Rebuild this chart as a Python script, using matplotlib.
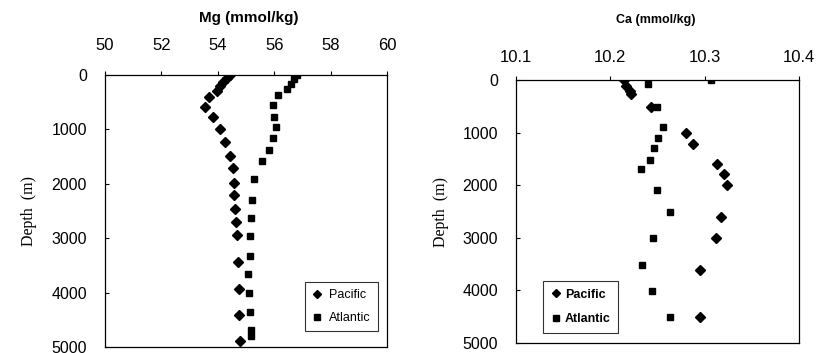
import matplotlib
matplotlib.use("Agg")
import matplotlib.pyplot as plt

# Mg profiles
mg_pac_depth = [0, 60, 123, 200, 290, 400, 580, 780, 990, 1225, 1480, 1715, 1980, 2200,
                2470, 2710, 2950, 3435, 3930, 4410, 4890]
mg_pac = [54.43, 54.32, 54.20, 54.08, 53.96, 53.68, 53.55, 53.82, 54.08, 54.26, 54.43, 54.53,
          54.57, 54.57, 54.62, 54.66, 54.69, 54.71, 54.74, 54.76, 54.80]
mg_atl_depth = [0, 80, 165, 263, 368, 550, 766, 961, 1152, 1380, 1580, 1912, 2290, 2620,
                2955, 3325, 3655, 4000, 4350, 4690, 4800]
mg_atl = [56.80, 56.71, 56.60, 56.44, 56.15, 55.95, 56.00, 56.06, 55.97, 55.83, 55.56, 55.30,
          55.23, 55.17, 55.14, 55.14, 55.08, 55.12, 55.14, 55.17, 55.17]

# Ca profiles
ca_pac_depth = [0, 114, 203, 266, 506, 1000, 1215, 1601, 1791, 2000, 2614, 3006, 3620, 4513]
ca_pac = [10.215, 10.217, 10.221, 10.222, 10.243, 10.280, 10.288, 10.313, 10.321, 10.324,
          10.317, 10.312, 10.295, 10.295]
ca_atl_depth = [0, 82, 506, 892, 1095, 1297, 1513, 1696, 2089, 2500, 3006, 3513, 4019, 4500]
ca_atl = [10.307, 10.240, 10.249, 10.256, 10.251, 10.246, 10.242, 10.233, 10.249, 10.263,
          10.245, 10.234, 10.244, 10.263]

depth_ticks = [0, 1000, 2000, 3000, 4000, 5000]
mg_ticks = [50, 52, 54, 56, 58, 60]
ca_ticks = [10.1, 10.2, 10.3, 10.4]

sans = "Liberation Sans"
serif = "Liberation Serif"


def setup(ax, xticks, xlim, xpad, ypad):
    ax.set_xlim(*xlim)
    ax.set_ylim(5000, 0)
    ax.xaxis.tick_top()
    ax.set_xticks(xticks)
    ax.set_yticks(depth_ticks)
    ax.tick_params(axis="x", length=3, direction="out", pad=xpad, labelsize=12)
    ax.tick_params(axis="y", length=3, direction="in", pad=ypad, labelsize=11.5)
    for lab in ax.get_xticklabels() + ax.get_yticklabels():
        lab.set_family(sans)
    for s in ax.spines.values():
        s.set_linewidth(0.9)
    ax.set_ylabel("Depth  (m)", family=serif, fontsize=11.5)


def main():
    fig = plt.figure(figsize=(8.32, 3.53), dpi=100)

    ax1 = fig.add_axes([105/832, 1-347/353, 282/832, 272/353])
    ax1.plot(mg_pac, mg_pac_depth, "D", color="black", markersize=5.5, label="Pacific")
    ax1.plot(mg_atl, mg_atl_depth, "s", color="black", markersize=5, label="Atlantic")
    setup(ax1, mg_ticks, (50, 60), 13, 13)
    ax1.set_xticklabels([str(t) for t in mg_ticks])
    ax1.yaxis.set_label_coords(-0.24, 0.5)
    leg = ax1.legend(loc="lower right", prop={"family": sans, "size": 9},
                     frameon=True, fancybox=False, edgecolor="black",
                     borderpad=0.55, labelspacing=0.9, handletextpad=0.6,
                     handlelength=0.8, markerscale=0.8,
                     bbox_to_anchor=(0.99, 0.035))
    leg.get_frame().set_linewidth(0.8)

    ax2 = fig.add_axes([516/832, 1-343/353, 283/832, 263/353])
    ax2.plot(ca_pac, ca_pac_depth, "D", color="black", markersize=5.5, label="Pacific")
    ax2.plot(ca_atl, ca_atl_depth, "s", color="black", markersize=5, label="Atlantic")
    setup(ax2, ca_ticks, (10.1, 10.4), 8, 13)
    ax2.set_xticklabels(["10.1", "10.2", "10.3", "10.4"])
    ax2.yaxis.set_label_coords(-0.235, 0.5)
    leg2 = ax2.legend(loc="lower left", prop={"family": sans, "size": 9, "weight": "bold"},
                      frameon=True, fancybox=False, edgecolor="black",
                      borderpad=0.6, labelspacing=1.0, handletextpad=0.3,
                      handlelength=0.8, markerscale=0.8,
                      bbox_to_anchor=(0.075, 0.015))
    leg2.get_frame().set_linewidth(0.8)

    fig.text(249/832, 1-18/353, "Mg (mmol/kg)", ha="center", va="center",
             family=sans, fontsize=11, weight="bold")
    fig.text(656/832, 1-20/353, "Ca (mmol/kg)", ha="center", va="center",
             family=sans, fontsize=9, weight="bold")

    fig.savefig("out.png", dpi=100)


if __name__ == "__main__":
    main()
